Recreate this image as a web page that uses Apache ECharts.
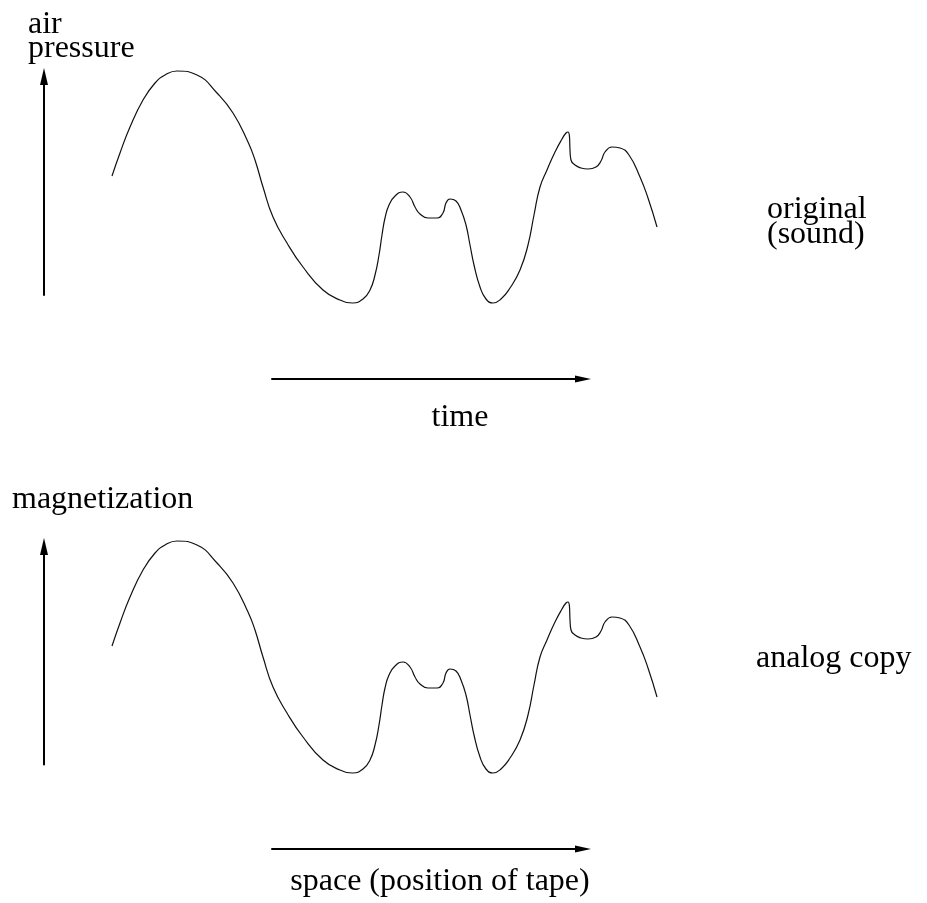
<!DOCTYPE html>
<html>
<head>
<meta charset="utf-8">
<script src="https://cdn.jsdelivr.net/npm/echarts@6/dist/echarts.min.js"></script>
<style>
  html, body { margin: 0; padding: 0; background: #fff; }
  #chart { width: 927px; height: 903px; }
</style>
</head>
<body>
<div id="chart"></div>
<script>
// ---- data (arbitrary units) ----
const time = [0, 8, 18, 31, 43, 53, 65, 85, 105, 121, 136, 143, 151, 161, 175, 191, 211, 228, 241,
  251, 258, 263, 267, 270, 273, 277, 283, 291, 298, 303, 308, 316, 325, 331, 334, 338, 344, 349,
  354, 358, 362, 368, 374, 381, 389, 398, 408, 416, 422, 428, 435, 443, 450, 454, 456, 457.5, 458,
  459, 463, 469, 476, 484, 489, 493, 500, 508, 517, 528, 536, 545];
const airPressure = [134, 157, 183, 210, 227, 235, 239, 235, 217, 197, 168, 150, 123, 93, 67, 43, 20, 10, 7,
  11, 20, 35, 55, 75, 92, 105, 114, 118, 113, 103, 96, 92, 92, 97, 107, 111, 109, 100,
  85, 65, 45, 23, 11, 7, 11, 22, 40, 65, 95, 123, 140, 158, 171, 177, 178, 173, 160,
  150, 145, 142, 141, 143, 149, 158, 163, 162, 155, 133, 112, 83];
const tapePosition = [0, 8, 18, 31, 43, 53, 65, 85, 105, 121, 136, 143, 151, 161, 175, 191, 211, 228, 241,
  251, 258, 263, 267, 270, 273, 277, 283, 291, 298, 303, 308, 316, 325, 331, 334, 338, 344, 349,
  354, 358, 362, 368, 374, 381, 389, 398, 408, 416, 422, 428, 435, 443, 450, 454, 456, 457.5, 458,
  459, 463, 469, 476, 484, 489, 493, 500, 508, 517, 528, 536, 545];
const magnetization = [134, 157, 183, 210, 227, 235, 239, 235, 217, 197, 168, 150, 123, 93, 67, 43, 20, 10, 7,
  11, 20, 35, 55, 75, 92, 105, 114, 118, 113, 103, 96, 92, 92, 97, 107, 111, 109, 100,
  85, 65, 45, 23, 11, 7, 11, 22, 40, 65, 95, 123, 140, 158, 171, 177, 178, 173, 160,
  150, 145, 142, 141, 143, 149, 158, 163, 162, 155, 133, 112, 83];

const labels = {
  topY: 'air\npressure',
  topX: 'time',
  topSide: 'original\n(sound)',
  bottomY: 'magnetization',
  bottomX: 'space (position of tape)',
  bottomSide: 'analog copy'
};

const FONT = 'Liberation Serif';
const FS = 32;

function pairs(xs, ys) { return xs.map((x, i) => [x, ys[i]]); }

const hidden = { show: false };
function arrowAxisLine(size) {
  return {
    show: true, onZero: false,
    symbol: ['none', 'triangle'], symbolSize: size,
    lineStyle: { color: '#000', width: 2 }
  };
}
function txt(text, left, top, align, lh) {
  return {
    text: text, left: left, top: top, padding: 0,
    textAlign: align || 'left',
    textStyle: { fontFamily: FONT, fontSize: FS, fontWeight: 'normal', color: '#000', lineHeight: lh || FS }
  };
}

const chart = echarts.init(document.getElementById('chart'), null, { renderer: 'canvas' });
chart.setOption({
  backgroundColor: '#fff',
  animation: false,
  title: [
    txt(labels.topY, 28, 13, 'left', 24),
    txt(labels.topX, 460, 402, 'center'),
    txt(labels.topSide, 767, 197, 'left', 25),
    txt(labels.bottomY, 12, 484, 'left'),
    txt(labels.bottomX, 440, 866, 'center'),
    txt(labels.bottomSide, 756, 643, 'left')
  ],
  grid: [
    { left: 112, top: 60, width: 546, height: 250 },
    { left: 112, top: 530, width: 546, height: 250 },
    { left: 44, top: 76.5, width: 10, height: 218.5 },
    { left: 272, top: 369, width: 311, height: 10 },
    { left: 44, top: 546.5, width: 10, height: 218 },
    { left: 272, top: 839, width: 311, height: 10 }
  ],
  xAxis: [
    { gridIndex: 0, type: 'value', min: 0, max: 546, show: false },
    { gridIndex: 1, type: 'value', min: 0, max: 546, show: false },
    { gridIndex: 2, type: 'value', show: false },
    { gridIndex: 3, type: 'value', min: 0, max: 1, position: 'bottom',
      axisLine: arrowAxisLine([7, 16]), axisTick: hidden, axisLabel: hidden, splitLine: hidden },
    { gridIndex: 4, type: 'value', show: false },
    { gridIndex: 5, type: 'value', min: 0, max: 1, position: 'bottom',
      axisLine: arrowAxisLine([7, 16]), axisTick: hidden, axisLabel: hidden, splitLine: hidden }
  ],
  yAxis: [
    { gridIndex: 0, type: 'value', min: 0, max: 250, show: false },
    { gridIndex: 1, type: 'value', min: 0, max: 250, show: false },
    { gridIndex: 2, type: 'value', min: 0, max: 1, position: 'left',
      axisLine: arrowAxisLine([8, 17]), axisTick: hidden, axisLabel: hidden, splitLine: hidden },
    { gridIndex: 3, type: 'value', show: false },
    { gridIndex: 4, type: 'value', min: 0, max: 1, position: 'left',
      axisLine: arrowAxisLine([8, 17]), axisTick: hidden, axisLabel: hidden, splitLine: hidden },
    { gridIndex: 5, type: 'value', show: false }
  ],
  series: [
    { name: 'original (sound)', type: 'line', xAxisIndex: 0, yAxisIndex: 0,
      data: pairs(time, airPressure), smooth: 0.5, showSymbol: false, clip: false,
      lineStyle: { color: '#111', width: 1.2 } },
    { name: 'analog copy', type: 'line', xAxisIndex: 1, yAxisIndex: 1,
      data: pairs(tapePosition, magnetization), smooth: 0.5, showSymbol: false, clip: false,
      lineStyle: { color: '#111', width: 1.2 } }
  ]
});
</script>
</body>
</html>
